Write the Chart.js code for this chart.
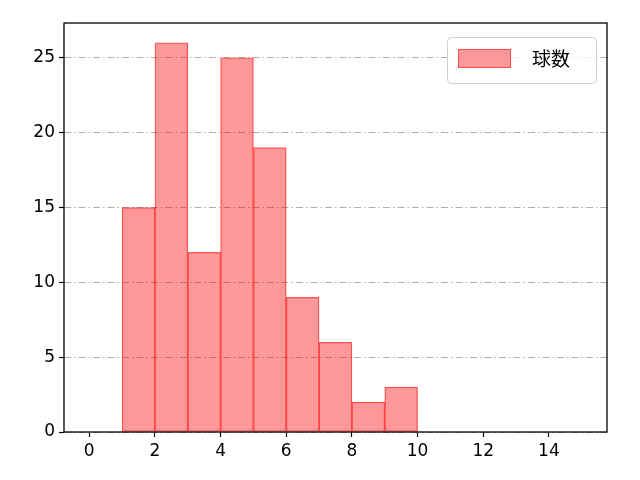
<!DOCTYPE html>
<html>
<head>
<meta charset="utf-8">
<script src="https://cdn.jsdelivr.net/npm/chart.js@4/dist/chart.umd.min.js"></script>
<style>
  html, body { margin: 0; padding: 0; background: #fff; }
  #wrap { width: 640px; height: 480px; }
</style>
</head>
<body>
<div id="wrap"><canvas id="chart" width="640" height="480"></canvas></div>
<script>
// histogram bins (left edges) and counts
const binStarts = [1, 2, 3, 4, 5, 6, 7, 8, 9];
const counts = [15, 26, 12, 25, 19, 9, 6, 2, 3];
const xTicks = [0, 2, 4, 6, 8, 10, 12, 14];
const yTicks = [0, 5, 10, 15, 20, 25];
const seriesLabel = "球数";

const points = binStarts.map((b, i) => ({ x: b + 0.5, y: counts[i] }));

// frame round the plot area + matplotlib-like legend inside
const framePlugin = {
  id: "frame",
  afterDraw(chart) {
    const { ctx, chartArea: a } = chart;
    ctx.save();
    ctx.strokeStyle = "#000";
    ctx.lineWidth = 1.3;
    ctx.strokeRect(a.left, a.top, a.right - a.left, a.bottom - a.top);

    // legend
    const lx = 447, ly = 37, lw = 149, lh = 46, r = 4;
    ctx.fillStyle = "rgba(255,255,255,0.8)";
    ctx.strokeStyle = "#d0d0d0";
    ctx.lineWidth = 1;
    ctx.beginPath();
    ctx.roundRect(lx + 0.5, ly + 0.5, lw, lh, r);
    ctx.fill();
    ctx.stroke();
    ctx.fillStyle = "rgba(255,0,0,0.4)";
    ctx.fillRect(458, 49, 53, 19);
    ctx.strokeStyle = "rgba(255,0,0,0.5)";
    ctx.strokeRect(458.5, 49.5, 52, 18);
    ctx.fillStyle = "#000";
    ctx.font = '19px "Noto Sans CJK JP"';
    ctx.textBaseline = "middle";
    ctx.fillText(seriesLabel, 532, 59);
    ctx.restore();
  }
};

new Chart(document.getElementById("chart"), {
  type: "bar",
  data: {
    datasets: [{
      label: seriesLabel,
      data: points,
      backgroundColor: "rgba(255,0,0,0.4)",
      borderColor: "rgba(255,0,0,0.6)",
      borderWidth: 0.6,
      borderSkipped: false,
      barPercentage: 1,
      categoryPercentage: 1
    }]
  },
  options: {
    responsive: false,
    animation: false,
    layout: { padding: { top: 23, right: 33, left: 0, bottom: 0 } },
    plugins: { legend: { display: false }, tooltip: { enabled: false } },
    scales: {
      x: {
        type: "linear",
        offset: false,
        min: -0.77,
        max: 15.77,
        afterFit: s => { s.height = 48; },
        afterBuildTicks: s => { s.ticks = xTicks.map(v => ({ value: v })); },
        grid: { offset: false, drawOnChartArea: false, color: "#000", tickLength: 5, tickWidth: 1.2 },
        border: { display: false },
        ticks: { color: "#000", font: { family: "DejaVu Sans", size: 17 }, padding: 4, maxRotation: 0 }
      },
      y: {
        min: 0,
        max: 27.33,
        afterFit: s => { s.width = 64; },
        afterBuildTicks: s => { s.ticks = yTicks.map(v => ({ value: v })); },
        grid: { color: "#b0b0b0", tickColor: "#000", tickLength: 5, lineWidth: 1, tickWidth: 1.2, tickBorderDash: [] },
        border: { display: false, dash: [7, 3, 1.5, 3] },
        ticks: { color: "#000", font: { family: "DejaVu Sans", size: 17 }, padding: 4 }
      }
    }
  },
  plugins: [framePlugin]
});
</script>
</body>
</html>
